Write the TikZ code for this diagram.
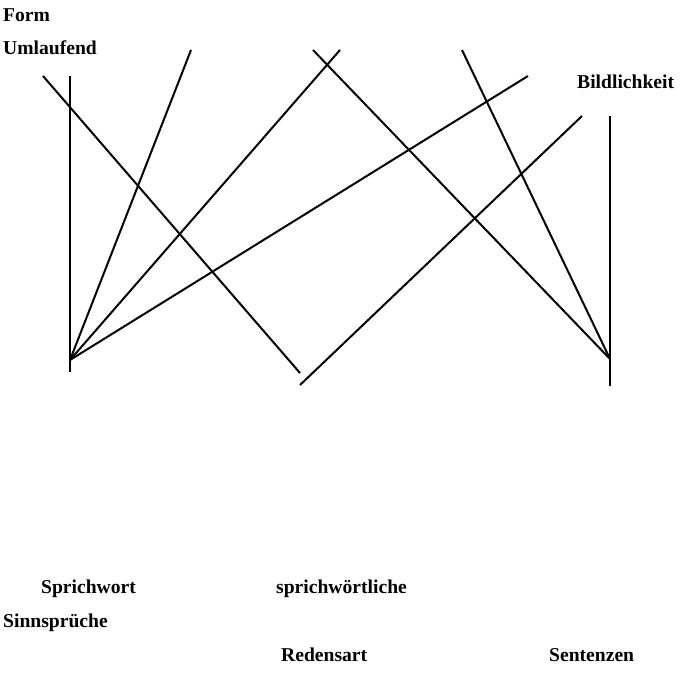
\documentclass[tikz,border=0pt]{standalone}
\usepackage{fontspec}
\setmainfont{Liberation Serif}
\begin{document}
\begin{tikzpicture}[x=1pt,y=-1pt,
  lbl/.style={anchor=base west,inner sep=0pt,font=\fontsize{19.6}{21}\selectfont\bfseries},
  ln/.style={line width=2pt,line cap=butt}]
\useasboundingbox (0,0) rectangle (682,674);
% labels
\node[lbl] (form) at (3,22) {Form};
\node[lbl] (umlauf) at (3,55) {Umlaufend};
\node[lbl] (bild) at (577,89) {Bildlichkeit};
\node[lbl] (sprich) at (41,593) {Sprichwort};
\node[lbl] (sprichw) at (276,593) {sprichwörtliche};
\node[lbl] (sinn) at (3,627) {Sinnsprüche};
\node[lbl] (redens) at (281,661) {Redensart};
\node[lbl] (sent) at (549,661) {Sentenzen};
% end points
\coordinate (v1t) at (70,76);
\coordinate (v1b) at (70,372);
\coordinate (c1) at (70,360);
\coordinate (a1) at (43,76);
\coordinate (a2) at (300,373);
\coordinate (b1) at (191,50);
\coordinate (b2) at (340,50);
\coordinate (b3) at (528,76);
\coordinate (d1) at (582,116);
\coordinate (d2) at (300,385);
\coordinate (e1) at (313,50);
\coordinate (e2) at (462,50);
\coordinate (c2) at (610,359);
\coordinate (v2t) at (610,116);
\coordinate (v2b) at (610,386);
% lines
\draw[ln] (v1t) -- (v1b);
\draw[ln] (a1) -- (a2);
\draw[ln] (b1) -- (c1);
\draw[ln] (b2) -- (c1);
\draw[ln] (b3) -- (c1);
\draw[ln] (d1) -- (d2);
\draw[ln] (e1) -- (c2);
\draw[ln] (e2) -- (c2);
\draw[ln] (v2t) -- (v2b);
\end{tikzpicture}
\end{document}
